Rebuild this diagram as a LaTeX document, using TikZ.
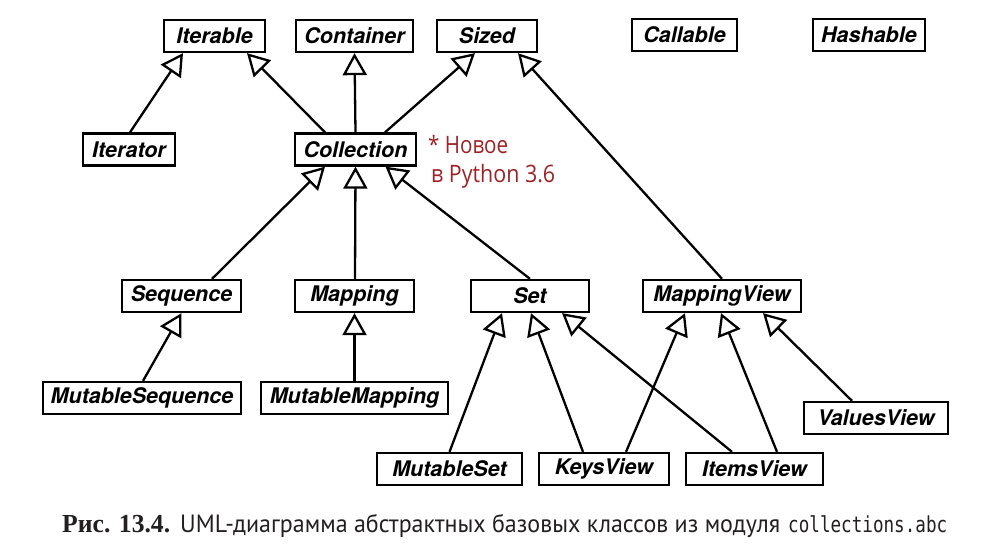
\documentclass[tikz,border=0pt]{standalone}
\usepackage{fontspec}
\usepackage{graphicx}
\setmainfont{TeX Gyre Heros}
\newfontfamily\notefont{Open Sans}
\newfontfamily\capsans{PT Sans}
\newfontfamily\capserif{Liberation Serif}
\newfontfamily\capmono{DejaVu Sans Mono}
\usetikzlibrary{arrows.meta}
\definecolor{notered}{HTML}{9E2226}
\definecolor{captext}{HTML}{231F20}
\begin{document}
\begin{tikzpicture}[x=1pt,y=-1pt,
  cls/.style={draw=black, line width=2.3pt, fill=white, inner sep=0pt,
    minimum height=32pt, font=\fontsize{21.5}{21.5}\selectfont\bfseries\itshape},
  inh/.style={line width=2.3pt, line join=miter,
    -{Triangle[open,length=22pt,width=24pt,fill=white]}},
  notestyle/.style={anchor=base west, inner sep=0pt, text=notered,
    font=\notefont\fontsize{24}{24}\selectfont},
  capstyle/.style={anchor=base west, inner sep=0pt, text=captext},
]
\useasboundingbox (0,0) rectangle (1003,557);

% row 1
\node[cls,minimum width=101pt] (iterable)  at (214.5,36) {Iterable};
\node[cls,minimum width=117pt] (container) at (354.5,36) {Container};
\node[cls,minimum width=100pt] (sized)     at (487,36)   {Sized};
\node[cls,minimum width=105pt] (callable)  at (684.5,35) {Callable};
\node[cls,minimum width=112pt] (hashable)  at (869,35)   {Hashable};
% row 2
\node[cls,minimum width=92pt]  (iterator)   at (129,149.5)   {Iterator};
\node[cls,minimum width=121pt] (collection) at (355.5,149.5) {Collection};
% row 3
\node[cls,minimum width=119pt] (sequence)    at (181.5,296) {Sequence};
\node[cls,minimum width=119pt] (mapping)     at (354.5,296) {Mapping};
\node[cls,minimum width=118pt] (set)         at (530,296)   {Set};
\node[cls,minimum width=158pt] (mappingview) at (722,296)   {MappingView};
% row 4
\node[cls,minimum width=198pt] (mutseq)     at (142,398)   {MutableSequence};
\node[cls,minimum width=187pt] (mutmap)     at (354.5,398) {MutableMapping};
\node[cls,minimum width=144pt] (valuesview) at (876,418)   {ValuesView};
% row 5
\node[cls,minimum width=145pt] (mutset)    at (449.5,469) {MutableSet};
\node[cls,minimum width=130pt] (keysview)  at (604,469)   {KeysView};
\node[cls,minimum width=137pt] (itemsview) at (754.5,469) {ItemsView};

% inheritance connectors
\draw[inh] ([xshift=1pt]iterator.north) -- ([xshift=-31.5pt]iterable.south);
\draw[inh] ([xshift=-30.5pt]collection.north) -- ([xshift=32.5pt]iterable.south);
\draw[inh] (collection.north) -- (container.south);
\draw[inh] ([xshift=29.5pt]collection.north) -- ([xshift=-12pt]sized.south);
\draw[inh] (mappingview.north) -- ([xshift=31pt]sized.south);
\draw[inh] ([xshift=30.5pt]sequence.north) -- ([xshift=-30.5pt]collection.south);
\draw[inh] ([xshift=0.5pt]mapping.north) -- (collection.south);
\draw[inh] (set.north) -- ([xshift=30pt]collection.south);
\draw[inh] ([xshift=1pt]mutseq.north) -- (sequence.south);
\draw[inh] (mutmap.north) -- (mapping.south);
\draw[inh] (mutset.north) -- ([xshift=-28pt]set.south);
\draw[inh] ([xshift=-21pt]keysview.north) -- ([xshift=1pt]set.south);
\draw[inh] ([xshift=-22.5pt]itemsview.north) -- ([xshift=32pt]set.south);
\draw[inh] ([xshift=22pt]keysview.north) -- ([xshift=-37pt]mappingview.south);
\draw[inh] ([xshift=22.5pt]itemsview.north) -- ([xshift=-1pt]mappingview.south);
\draw[inh] ([xshift=-24pt]valuesview.north) -- ([xshift=41pt]mappingview.south);

% note
\node[notestyle] (note1) at (428,153) {\resizebox{80pt}{\height}{* Новое}};
\node[notestyle] (note2) at (431,182) {\resizebox{124pt}{\height}{в Python 3.6}};

% caption
\node[capstyle, font=\capserif\bfseries\fontsize{26}{26}\selectfont] (capA) at (62,532)
  {\resizebox{108pt}{\height}{Рис. 13.4.}};
\node[capstyle, font=\capsans\fontsize{25}{25}\selectfont] (capB) at (180,532)
  {\resizebox{600pt}{\height}{UML-диаграмма абстрактных базовых классов из модуля}};
\node[capstyle, font=\capmono\fontsize{22}{22}\selectfont] (capC) at (788,532)
  {\resizebox{159pt}{\height}{collections.abc}};
\end{tikzpicture}
\end{document}
